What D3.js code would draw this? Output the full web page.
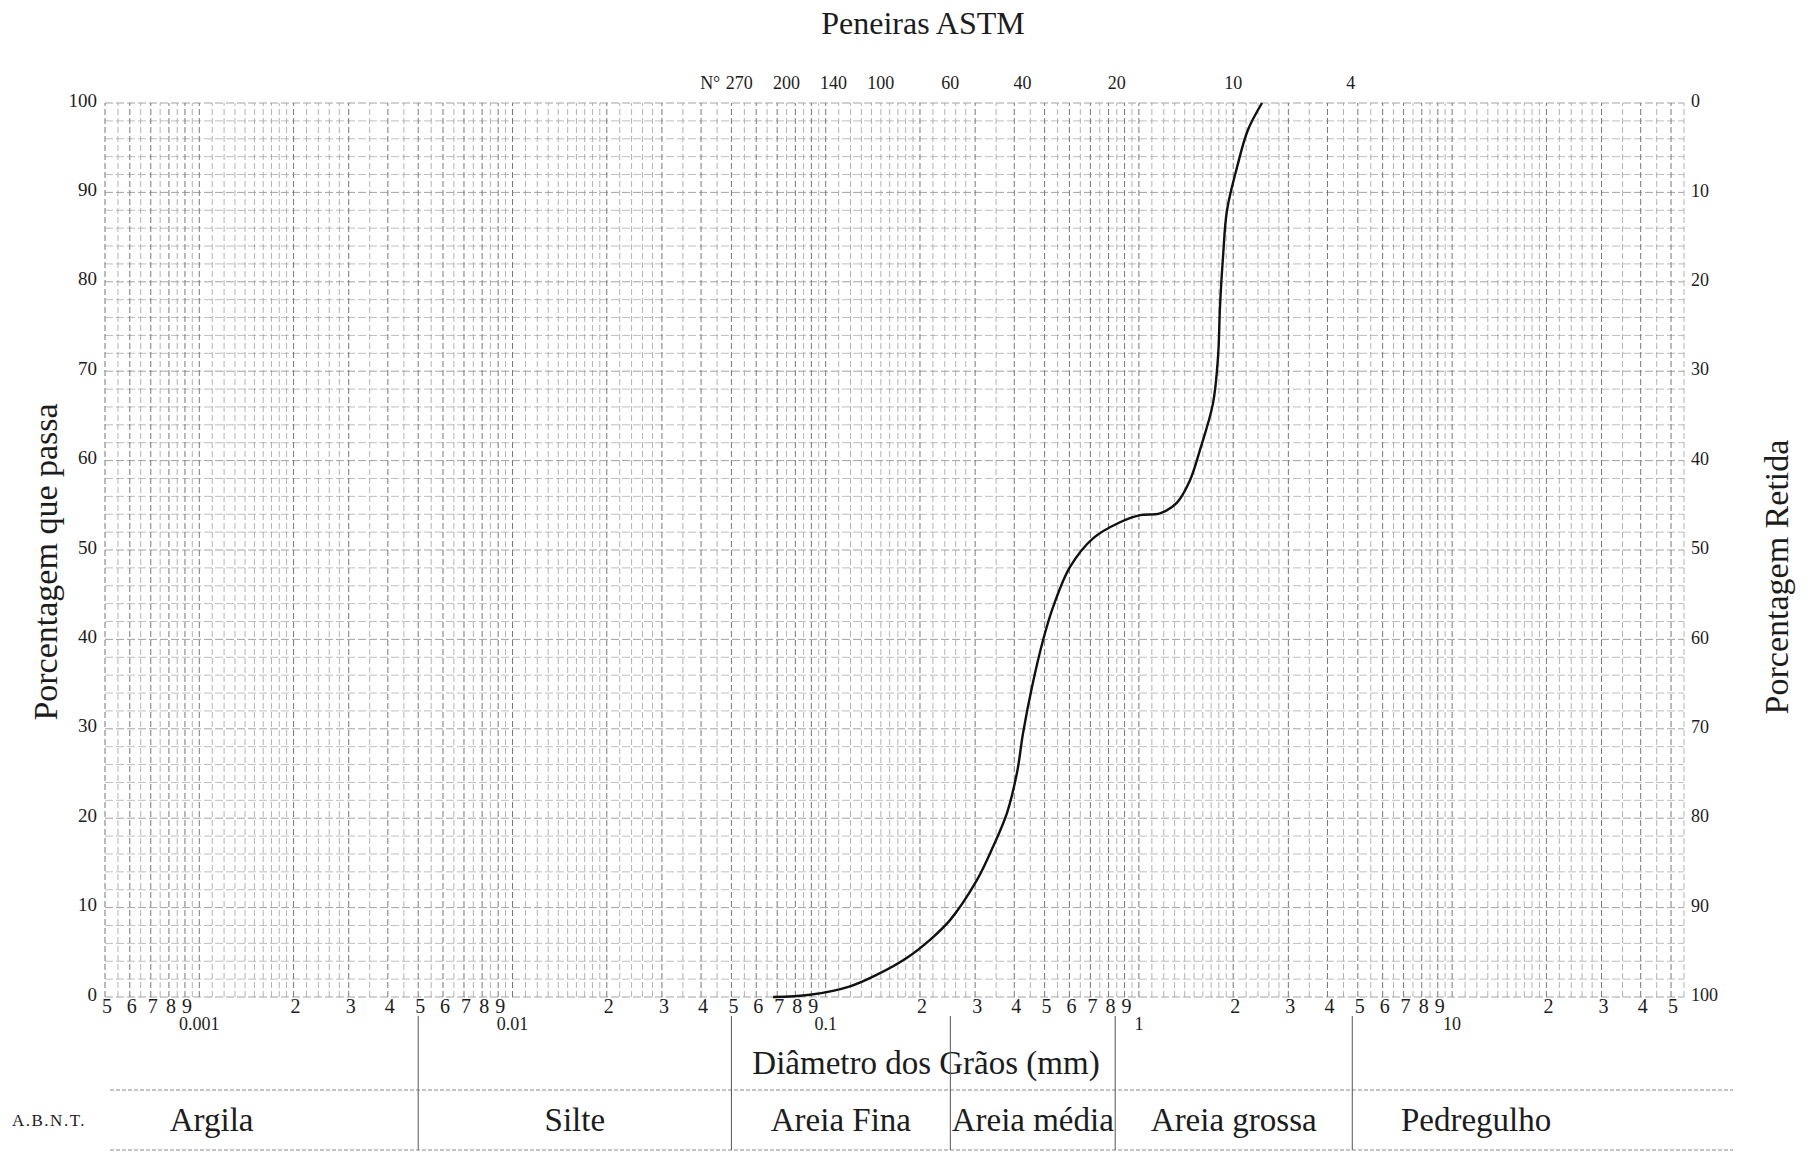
<!DOCTYPE html>
<html>
<head>
<meta charset="utf-8">
<script src="https://cdnjs.cloudflare.com/ajax/libs/d3/7.8.5/d3.min.js"></script>
<style>
	body { margin: 0; background: #fff; }
	svg text { font-family: "Liberation Serif", "DejaVu Serif", serif; fill: #1c1c1c; }
</style>
</head>
<body>
<div id="chart"></div>
<script>
// curva granulometrica
var diameters = [0.0679, 0.0891, 0.1196, 0.1458, 0.1818, 0.2153, 0.2494, 0.3042, 0.3421, 0.3793,
	0.4082, 0.4266, 0.4558, 0.4942, 0.5319, 0.6028, 0.7136, 0.8703, 1.008, 1.168,
	1.323, 1.456, 1.567, 1.724, 1.789, 1.815, 1.856, 1.911, 2.057, 2.230, 2.472];
var passing = [0, 0.25, 1.2, 2.5, 4.4, 6.4, 8.6, 13.1, 16.8, 20.6,
	25.1, 29.5, 34.7, 39.9, 43.6, 48.1, 51.3, 53.1, 53.9, 54.1,
	55.3, 57.8, 61.2, 66.4, 71.6, 77.2, 82.8, 88.0, 92.8, 97.0, 100];

var sieveNames = ['270', '200', '140', '100', '60', '40', '20', '10', '4'];
var sieveOpenings = [0.053, 0.075, 0.106, 0.15, 0.25, 0.425, 0.85, 2.0, 4.75];

var classNames = ['Argila', 'Silte', 'Areia Fina', 'Areia média', 'Areia grossa', 'Pedregulho'];
var classLimits = [0.005, 0.05, 0.25, 0.84, 4.8];

var decadeValues = [0.001, 0.01, 0.1, 1, 10];
var decadeLabels = ['0.001', '0.01', '0.1', '1', '10'];
var tickMantissas = [2, 3, 4, 5, 6, 7, 8, 9];
var gridMantissas = [1, 1.1, 1.2, 1.3, 1.4, 1.5, 1.6, 1.7, 1.8, 1.9, 2, 2.2, 2.4, 2.6, 2.8,
	3, 3.5, 4, 4.5, 5, 5.5, 6, 6.5, 7, 7.5, 8, 8.5, 9, 9.5];
var yTicks = [0, 10, 20, 30, 40, 50, 60, 70, 80, 90, 100];

var width = 1811,
	height = 1155;

var dMin = 0.0005,
	dMax = 55,
	dLabelMax = 50;

var x = d3.scaleLog()
	.domain([dMin, dMax])
	.range([105, 1684]);

var y = d3.scaleLinear()
	.domain([0, 100])
	.range([997, 103]);

var yRet = d3.scaleLinear()
	.domain([100, 0])
	.range([997, 103]);

var svg = d3.select('#chart')
	.append('svg')
	.attr('width', width)
	.attr('height', height);

// grade log
var decades = [0.0001, 0.001, 0.01, 0.1, 1, 10];
var vLines = [];
decades.forEach(function(dec) {
	gridMantissas.forEach(function(m) {
		var v = +(m * dec).toPrecision(6);
		if (v >= dMin * 0.999 && v <= dMax * 1.001) vLines.push({v: v, major: Number.isInteger(m)});
	});
});

var grid = svg.append('g').attr('class', 'grid');

grid.selectAll('.hline')
	.data(d3.range(0, 101, 2))
	.enter().append('line')
	.attr('class', 'hline')
	.attr('x1', x.range()[0])
	.attr('x2', x.range()[1])
	.attr('y1', function(d) { return y(d); })
	.attr('y2', function(d) { return y(d); })
	.style('stroke', function(d) { return d % 10 === 0 ? '#999' : '#b8b8b8'; })
	.style('stroke-width', 0.9)
	.style('stroke-dasharray', '8,3');

grid.selectAll('.vline')
	.data(vLines)
	.enter().append('line')
	.attr('class', 'vline')
	.attr('x1', function(d) { return x(d.v); })
	.attr('x2', function(d) { return x(d.v); })
	.attr('y1', y(0))
	.attr('y2', y(100))
	.style('stroke', function(d) { return d.major ? '#777' : '#a0a0a0'; })
	.style('stroke-width', function(d) { return d.major ? 1 : 0.8; })
	.style('stroke-dasharray', '6,3');

// eixo esquerdo: porcentagem que passa
var yAxis = svg.append('g')
	.attr('transform', 'translate(97,-3)')
	.call(d3.axisLeft(y).tickValues(yTicks).tickSize(0).tickPadding(0));
yAxis.select('.domain').remove();
yAxis.selectAll('text').style('font-size', '19px');

// eixo direito: porcentagem retida
var yAxisR = svg.append('g')
	.attr('transform', 'translate(1691,-2)')
	.call(d3.axisRight(yRet).tickValues(yTicks).tickSize(0).tickPadding(0));
yAxisR.select('.domain').remove();
yAxisR.selectAll('text').style('font-size', '18px');

// rotulos do eixo x (mantissas e decadas)
var mTicks = [];
decades.forEach(function(dec) {
	tickMantissas.forEach(function(m) {
		var v = +(m * dec).toPrecision(6);
		if (v >= dMin * 0.999 && v <= dLabelMax * 1.001) mTicks.push({v: v, m: m});
	});
});

svg.selectAll('.mtick')
	.data(mTicks)
	.enter().append('text')
	.attr('class', 'mtick')
	.attr('x', function(d) { return x(d.v) + 2; })
	.attr('y', 1013)
	.attr('text-anchor', 'middle')
	.style('font-size', '20px')
	.text(function(d) { return d.m; });

svg.selectAll('.dtick')
	.data(decadeValues)
	.enter().append('text')
	.attr('class', 'dtick')
	.attr('x', function(d) { return x(d); })
	.attr('y', 1030)
	.attr('text-anchor', 'middle')
	.style('font-size', '18px')
	.text(function(d, i) { return decadeLabels[i]; });

// peneiras ASTM
svg.append('text')
	.attr('x', 923)
	.attr('y', 34)
	.attr('text-anchor', 'middle')
	.style('font-size', '32px')
	.text('Peneiras ASTM');

svg.selectAll('.sieve')
	.data(sieveOpenings)
	.enter().append('text')
	.attr('class', 'sieve')
	.attr('x', function(d) { return x(d); })
	.attr('y', 89)
	.attr('text-anchor', 'middle')
	.style('font-size', '18px')
	.text(function(d, i) { return sieveNames[i]; });

svg.append('text')
	.attr('x', x(sieveOpenings[0]) - 19)
	.attr('y', 89)
	.attr('text-anchor', 'end')
	.style('font-size', '18px')
	.text('N°');

// curva
var line = d3.line()
	.x(function(d) { return x(d[0]); })
	.y(function(d) { return y(d[1]); })
	.curve(d3.curveCatmullRom.alpha(0.5));

svg.append('path')
	.datum(d3.zip(diameters, passing))
	.attr('d', line)
	.style('fill', 'none')
	.style('stroke', '#111')
	.style('stroke-width', 2.4);

// titulos dos eixos
svg.append('text')
	.attr('transform', 'translate(57,562) rotate(-90)')
	.attr('text-anchor', 'middle')
	.style('font-size', '34px')
	.text('Porcentagem que passa');

svg.append('text')
	.attr('transform', 'translate(1788,577) rotate(-90)')
	.attr('text-anchor', 'middle')
	.style('font-size', '34px')
	.text('Porcentagem Retida');

svg.append('text')
	.attr('x', 926)
	.attr('y', 1074)
	.attr('text-anchor', 'middle')
	.style('font-size', '33px')
	.text('Diâmetro dos Grãos (mm)');

// classificacao A.B.N.T.
var rowTop = 1090,
	rowBottom = 1150,
	rowLeft = 5,
	rowRight = 1600;

svg.selectAll('.rowline')
	.data([rowTop, rowBottom])
	.enter().append('line')
	.attr('class', 'rowline')
	.attr('x1', 110)
	.attr('x2', 1733)
	.attr('y1', function(d) { return d; })
	.attr('y2', function(d) { return d; })
	.style('stroke', '#8a8a8a')
	.style('stroke-width', 1)
	.style('stroke-dasharray', '4,2');

svg.selectAll('.sep')
	.data(classLimits)
	.enter().append('line')
	.attr('class', 'sep')
	.attr('x1', function(d) { return x(d); })
	.attr('x2', function(d) { return x(d); })
	.attr('y1', 1016)
	.attr('y2', rowBottom)
	.style('stroke', '#555')
	.style('stroke-width', 1);

var edges = [rowLeft].concat(classLimits.map(function(d) { return x(d); }), [rowRight]);

svg.selectAll('.cls')
	.data(classNames)
	.enter().append('text')
	.attr('class', 'cls')
	.attr('x', function(d, i) { return (edges[i] + edges[i + 1]) / 2; })
	.attr('y', 1131)
	.attr('text-anchor', 'middle')
	.style('font-size', '33px')
	.text(function(d) { return d; });

svg.append('text')
	.attr('x', 12)
	.attr('y', 1126)
	.style('font-size', '17px')
	.style('letter-spacing', '1.5px')
	.text('A.B.N.T.');
</script>
</body>
</html>
